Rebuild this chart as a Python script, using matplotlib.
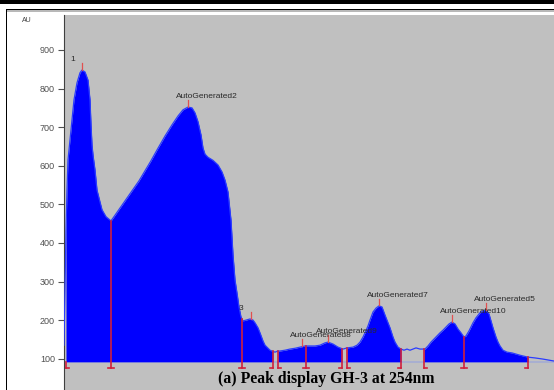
import numpy as np
import matplotlib.pyplot as plt
from matplotlib.patches import Rectangle

# Chromatogram of GH-3 at 254 nm: retention time (min) vs response (AU)
time_min = [
    0.00, 0.02, 0.04, 0.06, 0.08, 0.10, 0.14, 0.20, 0.26, 0.32, 0.36, 0.42,
    0.48, 0.52, 0.54, 0.56, 0.58, 0.62, 0.66, 0.72, 0.76, 0.84, 0.94, 1.08,
    1.22, 1.36, 1.50, 1.62, 1.74, 1.86, 2.02, 2.16, 2.28, 2.38, 2.48, 2.56,
    2.62, 2.68, 2.74, 2.78, 2.82, 2.88, 2.98, 3.08, 3.16, 3.22, 3.28, 3.34,
    3.38, 3.42, 3.46, 3.50, 3.54, 3.56, 3.58, 3.64, 3.72, 3.78, 3.82, 3.88,
    3.92, 3.98, 4.02, 4.12, 4.18, 4.22, 4.28, 4.32, 4.42, 4.52, 4.62, 4.72,
    4.82, 4.84, 4.92, 5.02, 5.12, 5.22, 5.28, 5.38, 5.48, 5.56, 5.58, 5.66,
    5.78, 5.86, 5.92, 5.98, 6.02, 6.08, 6.12, 6.18, 6.24, 6.30, 6.36, 6.42,
    6.48, 6.52, 6.58, 6.62, 6.68, 6.74, 6.80, 6.86, 6.92, 6.98, 7.04, 7.12,
    7.20, 7.22, 7.28, 7.34, 7.40, 7.46, 7.52, 7.58, 7.64, 7.70, 7.76, 7.82,
    7.88, 7.94, 8.00, 8.04, 8.10, 8.18, 8.24, 8.32, 8.38, 8.44, 8.50, 8.54,
    8.58, 8.64, 8.68, 8.72, 8.78, 8.86, 8.96, 9.12, 9.28, 9.42, 9.58, 9.80,
]
response_au = [
    135, 278, 433, 537, 615, 641, 693, 771, 815, 841, 848, 843,
    822, 771, 706, 654, 628, 589, 537, 506, 486, 468, 457, 483,
    509, 535, 561, 587, 613, 641, 677, 706, 729, 745, 752, 750,
    737, 714, 680, 646, 630, 622, 614, 602, 584, 563, 532, 459,
    369, 304, 270, 234, 208, 203, 198, 200, 203, 200, 193, 180,
    167, 146, 135, 122, 119, 117, 120, 120, 122, 125, 127, 130,
    133, 133, 133, 133, 135, 141, 143, 138, 130, 126, 125, 128,
    130, 135, 143, 156, 167, 185, 200, 221, 231, 237, 234, 213,
    193, 180, 156, 143, 130, 125, 122, 125, 122, 125, 128, 125,
    125, 125, 133, 143, 151, 159, 167, 174, 182, 190, 195, 190,
    177, 167, 156, 159, 172, 193, 206, 219, 224, 226, 216, 198,
    180, 156, 143, 133, 122, 117, 115, 109, 104, 102, 99, 94,
]

baseline_au = 92

# integration windows and the drop lines splitting them
window_start = [0.04, 4.28, 5.66, 7.20]
window_end = [4.18, 5.56, 6.74, 9.28]
drop_lines = [0.94, 3.56, 4.84, 8.00]

peak_times = [0.36, 2.48, 3.74, 4.76, 5.28, 6.30, 7.76, 8.44]
peak_names = ['1', 'AutoGenerated2', '3', 'AutoGenerated8', 'AutoGenerated9',
              'AutoGenerated7', 'AutoGenerated10', 'AutoGenerated5']

y_ticks = [100, 200, 300, 400, 500, 600, 700, 800, 900]

W, H = 554, 390
t = np.array(time_min)
au = np.array(response_au)

fig = plt.figure(figsize=(W / 100, H / 100), dpi=100)
fig.patch.set_facecolor('white')
ax = fig.add_axes([64 / W, 0, 1 - 64 / W, (H - 15) / H])
ax.set_facecolor('#c0c0c0')

ax.axhline(baseline_au - 1, color='#a4acd4', lw=1.2, zorder=1)

for s, e in zip(window_start, window_end):
    mask = (t >= s) & (t <= e)
    ax.fill_between(t, baseline_au, au, where=mask, color='#0000ff', lw=0, zorder=2)
ax.plot(t, au, color='#2a3cff', lw=0.9, zorder=3)

drop_red = '#d0203c'
cap_au = 76
cap_w = 0.06


def drop(x, left, right, full=True):
    top = np.interp(x, t, au) if full else baseline_au
    ax.plot([x, x], [cap_au, top], color=drop_red, lw=1.2, zorder=4)
    ax.plot([x - cap_w * left, x + cap_w * right], [cap_au, cap_au],
            color=drop_red, lw=1.2, zorder=4)


# the very first start mark sits on the steep front, only its foot shows
for i, x in enumerate(window_start):
    drop(x, 0, 1, full=i > 0)
for x in window_end:
    drop(x, 1, 0)
for x in drop_lines:
    drop(x, 1, 1)

# apex ticks and peak names
for pt, name in zip(peak_times, peak_names):
    apex = np.interp(pt, t, au)
    ax.plot([pt, pt], [apex + 1, apex + 19], color='#e05050', lw=0.9, zorder=4)
    ax.annotate(name, xy=(pt, apex + 19), xytext=(-12, 0), textcoords='offset pixels',
                ha='left', va='bottom', fontsize=6, family='Liberation Sans',
                color='#2a2a2a', zorder=5)

ax.set_xlim(0, 9.8)
ax.set_ylim(18.9, 990.7)
ax.set_xticks([])
ax.set_yticks(y_ticks)
ax.tick_params(axis='y', length=4.3, width=0.8, color='#505050', pad=2.2,
               labelsize=6.5, labelcolor='#505050')
for lab in ax.get_yticklabels():
    lab.set_family('Liberation Sans')
for side in ['top', 'right', 'bottom']:
    ax.spines[side].set_visible(False)
ax.spines['left'].set_color('#404040')
ax.spines['left'].set_linewidth(0.8)

fig.text(27 / W, 1 - 21 / H, 'AU', ha='center', va='center', fontsize=5,
         family='Liberation Sans', color='#404040')

fig.text(326 / W, 7 / H, '(a) Peak display GH-3 at 254nm', ha='center', va='baseline',
         fontsize=11.3, fontweight='bold', family='Liberation Serif', color='black')

# page frame around the figure
fig.add_artist(Rectangle((0, 1 - 3.5 / H), 1, 3.5 / H, transform=fig.transFigure,
                         color='black', lw=0))
fig.add_artist(Rectangle((6 / W, 1 - 10.3 / H), 1, 1.5 / H, transform=fig.transFigure,
                         color='black', lw=0))
fig.add_artist(Rectangle((6 / W, 1 - 11.6 / H), 1, 1.2 / H, transform=fig.transFigure,
                         color='#b8b8b8', lw=0))
fig.add_artist(Rectangle((6 / W, 0), 1.4 / W, 1 - 9 / H, transform=fig.transFigure,
                         color='black', lw=0))

fig.savefig('out.png', dpi=100)
